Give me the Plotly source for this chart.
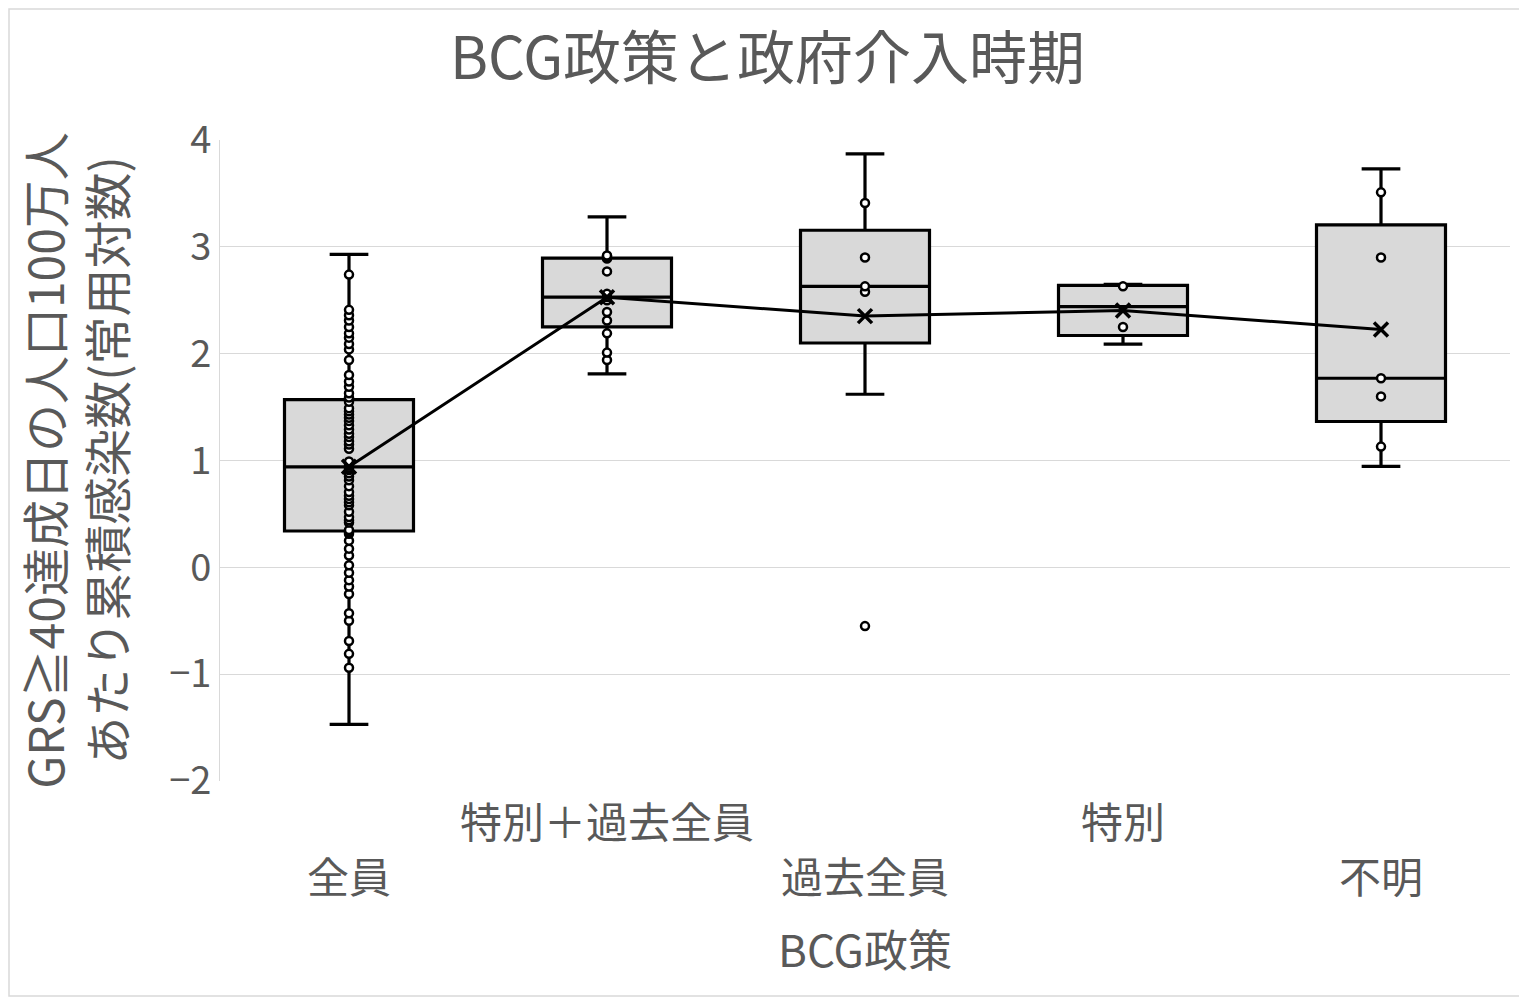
import numpy as np
import plotly.graph_objects as go

# categories (x axis) and values per BCG policy group
categories = ["全員", "特別＋過去全員", "過去全員", "特別", "不明"]

zenin = [2.93, 2.74, 2.41, 2.36, 2.31, 2.25, 2.19, 2.15, 2.09, 2.04, 1.94, 1.80,
         1.74, 1.69, 1.63, 1.59, 1.55, 1.49, 1.46, 1.43, 1.40, 1.37, 1.33, 1.29,
         1.25, 1.22, 1.18, 1.15, 1.11, 0.99, 0.97, 0.95, 0.93, 0.91, 0.88, 0.85,
         0.815, 0.76, 0.705, 0.67, 0.64, 0.61, 0.58, 0.52, 0.47, 0.44, 0.42, 0.35,
         0.33, 0.315, 0.25, 0.175, 0.11, 0.02, -0.05, -0.12, -0.18, -0.25, -0.43,
         -0.50, -0.69, -0.81, -0.94, -1.47]
tokubetsu_kako = [1.81, 1.94, 2.01, 2.19, 2.31, 2.39, 2.50, 2.53, 2.56, 2.77,
                  2.89, 2.90, 2.91, 2.92, 3.28]
kako_zenin = [3.87, 3.41, 2.90, 2.63, 2.58, 1.62, -0.55]
tokubetsu = [2.65, 2.63, 2.25, 2.09]
fumei = [3.73, 3.51, 2.90, 1.77, 1.60, 1.13, 0.945]

groups = [zenin, tokubetsu_kako, kako_zenin, tokubetsu, fumei]

y_ticks = [-2, -1, 0, 1, 2, 3, 4]

FONT = "Noto Sans CJK JP"
GREY_TXT = "#595959"


def inner_points(vals):
    # points strictly between the whisker ends (inclusive-median quartiles)
    s = np.sort(np.array(vals))
    n = len(s)
    if n % 2:
        lo_half, hi_half = s[:n // 2 + 1], s[n // 2:]
    else:
        lo_half, hi_half = s[:n // 2], s[n // 2:]
    q1, q3 = np.median(lo_half), np.median(hi_half)
    iqr = q3 - q1
    inside = s[(s >= q1 - 1.5 * iqr) & (s <= q3 + 1.5 * iqr)]
    lo, hi = inside.min(), inside.max()
    return s[(s > lo) & (s < hi)]


point_marker = dict(symbol="circle", size=8, color="white",
                    line=dict(color="black", width=2.5))

fig = go.Figure()

for cat, vals in zip(categories, groups):
    fig.add_trace(go.Box(
        x=[cat] * len(vals), y=vals, name=cat,
        quartilemethod="inclusive", boxpoints="outliers",
        fillcolor="#d9d9d9", line=dict(color="black", width=3.2),
        whiskerwidth=0.3, width=0.5, marker=point_marker,
        showlegend=False, hoverinfo="y"))
    pts = inner_points(vals)
    fig.add_trace(go.Scatter(
        x=[cat] * len(pts), y=pts, mode="markers",
        marker=point_marker, showlegend=False))

means = [float(np.mean(g)) for g in groups]
fig.add_trace(go.Scatter(
    x=categories, y=means, mode="lines+markers",
    line=dict(color="black", width=3),
    marker=dict(symbol="x-thin", size=14, color="black",
                line=dict(color="black", width=3.5)),
    showlegend=False))

ticktext = [c if i % 2 else "<br>" + c for i, c in enumerate(categories)]

fig.update_xaxes(
    type="category", categoryorder="array", categoryarray=categories,
    range=[-0.5, 4.5], tickvals=categories, ticktext=ticktext,
    showgrid=False, ticks="", showline=False, ticklabelstandoff=14,
    tickfont=dict(family=FONT, size=42, color=GREY_TXT),
    title=dict(text="BCG政策", font=dict(family=FONT, size=44, color=GREY_TXT),
               standoff=32))

fig.update_yaxes(
    range=[-2, 4], tickvals=y_ticks, showgrid=True, gridcolor="#d9d9d9",
    gridwidth=1, zeroline=False, showline=True, linecolor="#d9d9d9",
    ticks="", tickfont=dict(family=FONT, size=38, color=GREY_TXT),
    title=dict(text="GRS≧40達成日の人口100万人<br>あたり累積感染数(常用対数)",
               font=dict(family=FONT, size=48, color=GREY_TXT), standoff=36))

# thin border around the whole chart area
W, H = 1519, 989
L, R, T, B = 212, 17, 132, 216
pw, ph = W - L - R, H - T - B
fig.add_shape(type="rect", xref="paper", yref="paper",
              x0=-(L - 1) / pw, x1=1 + (R - 1) / pw,
              y0=-(B - 1) / ph, y1=1 + (T - 1) / ph,
              line=dict(color="#d9d9d9", width=1.5))

fig.update_layout(
    width=W, height=H,
    margin=dict(l=L, r=R, t=T, b=B, autoexpand=False),
    paper_bgcolor="white", plot_bgcolor="white",
    title=dict(text="BCG政策と政府介入時期", x=0.5, xref="container",
               y=0.949, yref="container", yanchor="middle",
               font=dict(family=FONT, size=58, color=GREY_TXT)),
    boxmode="overlay")

fig.write_html("out.html")
